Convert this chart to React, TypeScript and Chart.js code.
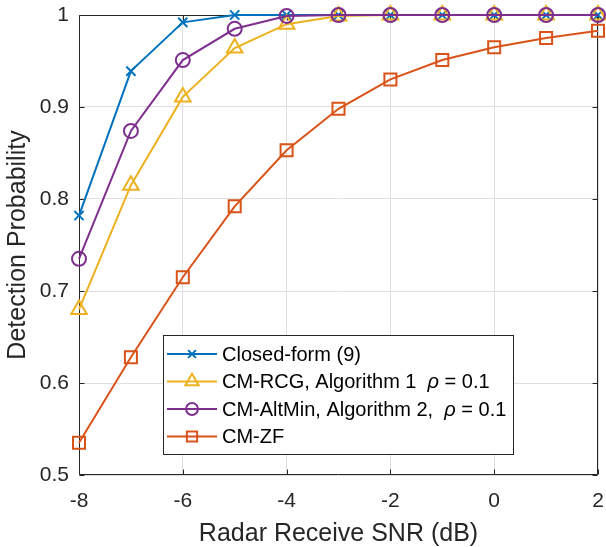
import React, { useEffect, useRef } from "react";
import { Chart, registerables } from "chart.js";

Chart.register(...registerables);

const snr = [-8, -7, -6, -5, -4, -3, -2, -1, 0, 1, 2];
const closedForm = [0.782, 0.939, 0.992, 1.0, 1.0, 1.0, 1.0, 1.0, 1.0, 1.0, 1.0];
const cmRcg = [0.680, 0.815, 0.911, 0.964, 0.990, 0.999, 1.0, 1.0, 1.0, 1.0, 1.0];
const cmAltMin = [0.735, 0.874, 0.951, 0.985, 0.999, 1.0, 1.0, 1.0, 1.0, 1.0, 1.0];
const cmZf = [0.535, 0.628, 0.715, 0.792, 0.853, 0.898, 0.930, 0.951, 0.965, 0.975, 0.983];

const xTicks = [-8, -6, -4, -2, 0, 2];
const xTickLabels = ["-8", "-6", "-4", "-2", "0", "2"];
const yTicks = [0.5, 0.6, 0.7, 0.8, 0.9, 1.0];
const yTickLabels = ["0.5", "0.6", "0.7", "0.8", "0.9", "1"];

const xTitle = "Radar Receive SNR (dB)";
const yTitle = "Detection Probability";

type Seg = { text: string; italic?: boolean };
const seriesNames: Seg[][] = [
  [{ text: "Closed-form (9)" }],
  [{ text: "CM-RCG, Algorithm 1  " }, { text: "ρ", italic: true }, { text: " = 0.1" }],
  [{ text: "CM-AltMin, Algorithm 2,  " }, { text: "ρ", italic: true }, { text: " = 0.1" }],
  [{ text: "CM-ZF" }],
];
const seriesColors = ["#0072BD", "#EDB120", "#7E2F8E", "#D95319"];
const seriesMarkers = ["crossRot", "triangle", "circle", "rect"];
const seriesRadius = [6.5, 9, 7, 8.5];
const seriesValues = [closedForm, cmRcg, cmAltMin, cmZf];

const FONT = '"Liberation Sans", Arial, Helvetica, sans-serif';
const AXIS_COLOR = "#262626";

function drawMarker(ctx: CanvasRenderingContext2D, style: string, x: number, y: number, r: number) {
  ctx.beginPath();
  if (style === "crossRot") {
    const d = Math.cos(Math.PI / 4) * r;
    ctx.moveTo(x - d, y - d);
    ctx.lineTo(x + d, y + d);
    ctx.moveTo(x + d, y - d);
    ctx.lineTo(x - d, y + d);
  } else if (style === "triangle") {
    for (let k = 0; k < 3; k++) {
      const a = (k * 2 * Math.PI) / 3;
      const px = x + Math.sin(a) * r;
      const py = y - Math.cos(a) * r;
      if (k === 0) ctx.moveTo(px, py);
      else ctx.lineTo(px, py);
    }
    ctx.closePath();
  } else if (style === "circle") {
    ctx.arc(x, y, r, 0, Math.PI * 2);
  } else if (style === "rect") {
    const s = Math.SQRT1_2 * r;
    ctx.rect(x - s, y - s, 2 * s, 2 * s);
  }
  ctx.stroke();
}

const boxPlugin = {
  id: "matlabBox",
  beforeDatasetsDraw(chart: any) {
    const { ctx, chartArea } = chart;
    const { left, right, top, bottom } = chartArea;
    const xs = chart.scales.x;
    const ys = chart.scales.y;
    ctx.save();
    ctx.strokeStyle = AXIS_COLOR;
    ctx.lineWidth = 1;
    const L = Math.round(left) + 0.5;
    const R = Math.round(right) - 0.5;
    const T = Math.round(top) + 0.5;
    const B = Math.round(bottom) - 0.5;
    ctx.beginPath();
    ctx.rect(L, T, R - L, B - T);
    ctx.stroke();
    const tl = 5;
    ctx.beginPath();
    for (const v of xTicks) {
      const px = Math.round(xs.getPixelForValue(v)) + 0.5;
      ctx.moveTo(px, B);
      ctx.lineTo(px, B - tl);
      ctx.moveTo(px, T);
      ctx.lineTo(px, T + tl);
    }
    for (const v of yTicks) {
      const py = Math.round(ys.getPixelForValue(v)) + 0.5;
      ctx.moveTo(L, py);
      ctx.lineTo(L + tl, py);
      ctx.moveTo(R, py);
      ctx.lineTo(R - tl, py);
    }
    ctx.stroke();
    ctx.restore();
  },
};

const legendPlugin = {
  id: "matlabLegend",
  afterDraw(chart: any) {
    const { ctx } = chart;
    const bx = 163.5;
    const by = 335.5;
    const bw = 350;
    const bh = 119;
    ctx.save();
    ctx.fillStyle = "#ffffff";
    ctx.fillRect(bx, by, bw, bh);
    ctx.strokeStyle = AXIS_COLOR;
    ctx.lineWidth = 1;
    ctx.strokeRect(bx, by, bw, bh);
    const rowY0 = 354;
    const rowGap = 27.5;
    for (let i = 0; i < seriesNames.length; i++) {
      const y = rowY0 + i * rowGap;
      ctx.strokeStyle = seriesColors[i];
      ctx.lineWidth = 2;
      ctx.beginPath();
      ctx.moveTo(167, y);
      ctx.lineTo(217, y);
      ctx.stroke();
      drawMarker(ctx, seriesMarkers[i], 192, y, seriesRadius[i] * 0.85);
      let tx = 222;
      ctx.fillStyle = "#000000";
      ctx.textBaseline = "middle";
      ctx.textAlign = "left";
      for (const seg of seriesNames[i]) {
        ctx.font = (seg.italic ? "italic " : "") + "20px " + FONT;
        ctx.fillText(seg.text, tx, y + 1);
        tx += ctx.measureText(seg.text).width;
      }
    }
    ctx.restore();
  },
};

export default function App() {
  const ref = useRef<HTMLCanvasElement | null>(null);
  useEffect(() => {
    document.body.style.margin = "0";
    const canvas = ref.current;
    if (!canvas) return;
    const datasets = seriesValues.map((vals, i) => ({
      label: seriesNames[i].map((s) => s.text).join(""),
      data: snr.map((x, k) => ({ x, y: vals[k] })),
      borderColor: seriesColors[i],
      backgroundColor: seriesColors[i],
      pointBorderColor: seriesColors[i],
      pointBackgroundColor: "rgba(0,0,0,0)",
      pointStyle: seriesMarkers[i] as any,
      pointRadius: seriesRadius[i],
      pointHoverRadius: seriesRadius[i],
      pointBorderWidth: 2,
      borderWidth: 2,
      tension: 0,
      clip: false as any,
      order: 3 - i,
    }));
    const chart = new Chart(canvas, {
      type: "line",
      data: { datasets },
      plugins: [boxPlugin, legendPlugin],
      options: {
        animation: false,
        responsive: false,
        devicePixelRatio: 1,
        layout: { autoPadding: false, padding: { left: 0, top: 15, right: 8, bottom: 0 } },
        plugins: { legend: { display: false }, tooltip: { enabled: false } },
        scales: {
          x: {
            type: "linear",
            min: -8,
            max: 2,
            afterBuildTicks: (scale: any) => {
              scale.ticks = xTicks.map((v) => ({ value: v }));
            },
            afterFit: (scale: any) => {
              scale.height = 72;
              scale.paddingLeft = 0;
              scale.paddingRight = 0;
            },
            ticks: {
              callback: (_v: any, i: number) => xTickLabels[i],
              color: AXIS_COLOR,
              font: { family: FONT, size: 21 },
              padding: 14,
              maxRotation: 0,
              autoSkip: false,
            },
            grid: { color: "#e0e0e0", drawTicks: false, lineWidth: 1 },
            border: { display: false },
            title: {
              display: true,
              text: xTitle,
              color: AXIS_COLOR,
              font: { family: FONT, size: 25 },
              padding: { top: 0, bottom: -2 },
            },
          },
          y: {
            type: "linear",
            min: 0.5,
            max: 1,
            afterBuildTicks: (scale: any) => {
              scale.ticks = yTicks.map((v) => ({ value: v }));
            },
            afterFit: (scale: any) => {
              scale.width = 79;
              scale.paddingTop = 0;
              scale.paddingBottom = 0;
            },
            ticks: {
              callback: (_v: any, i: number) => yTickLabels[i],
              color: AXIS_COLOR,
              font: { family: FONT, size: 21 },
              padding: 10,
              autoSkip: false,
            },
            grid: { color: "#e0e0e0", drawTicks: false, lineWidth: 1 },
            border: { display: false },
            title: {
              display: true,
              text: yTitle,
              color: AXIS_COLOR,
              font: { family: FONT, size: 25 },
              padding: { top: 3, bottom: 0 },
            },
          },
        },
      },
    });
    return () => chart.destroy();
  }, []);
  return <canvas ref={ref} width={606} height={547} style={{ display: "block" }} />;
}
